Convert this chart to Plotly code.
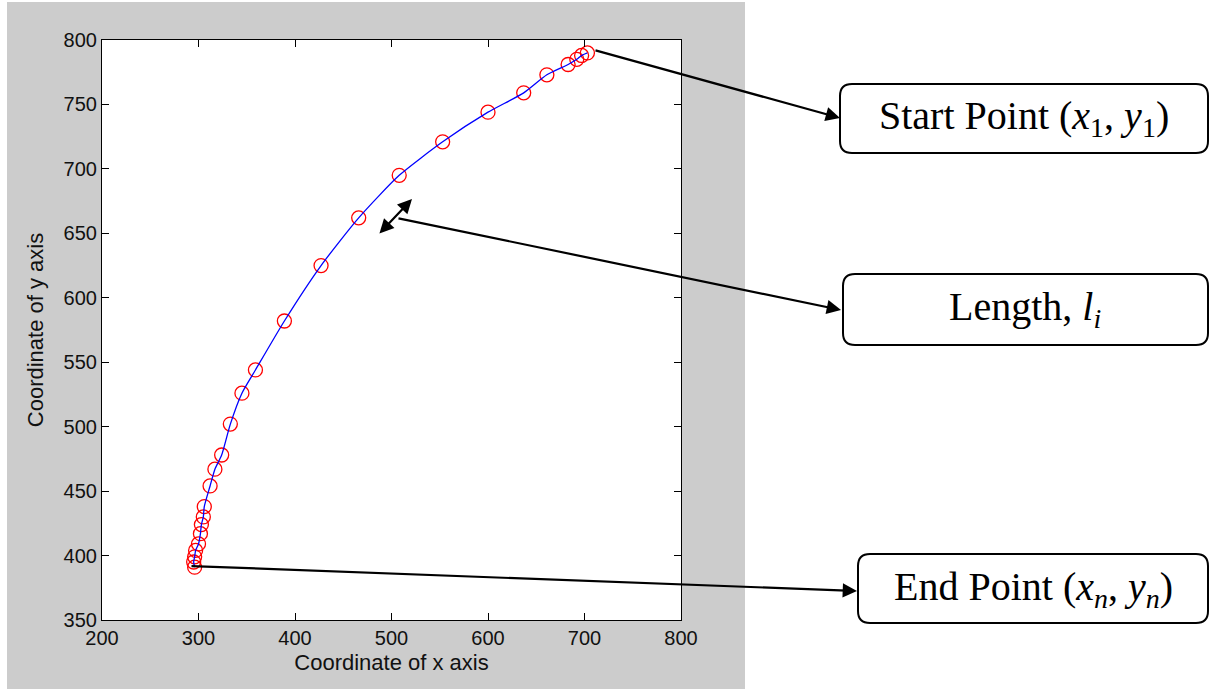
import plotly.graph_objects as go

# ---- data ----
x_coord = [703, 697, 692, 683, 661, 637, 600, 553, 508, 466, 427, 389, 359, 345,
           333, 324, 317, 312, 306, 305, 303, 302, 300, 297, 296, 295, 296]
y_coord = [790, 788, 785, 781, 773, 759, 744, 721, 695, 662, 625, 582, 544, 526,
           502, 478, 467, 454, 438, 430, 424, 417, 409, 404, 399, 395, 391]
x_ticks = [200, 300, 400, 500, 600, 700, 800]
y_ticks = [350, 400, 450, 500, 550, 600, 650, 700, 750, 800]

W, H = 1209, 690
ML, MR, MT, MB = 102, 528, 40, 70
PW, PH = W - ML - MR, H - MT - MB


def px(xp):
    return (xp - ML) / PW


def py(yp):
    return (H - MB - yp) / PH


def rounded_rect(x0, y0, x1, y1, r):
    rx, ry = r / PW, r / PH
    X0, X1 = px(x0), px(x1)
    Y0, Y1 = py(y1), py(y0)  # Y0 bottom, Y1 top
    return (f"M {X0+rx},{Y1} L {X1-rx},{Y1} Q {X1},{Y1} {X1},{Y1-ry} "
            f"L {X1},{Y0+ry} Q {X1},{Y0} {X1-rx},{Y0} "
            f"L {X0+rx},{Y0} Q {X0},{Y0} {X0},{Y0+ry} "
            f"L {X0},{Y1-ry} Q {X0},{Y1} {X0+rx},{Y1} Z")


fig = go.Figure()
fig.add_trace(go.Scatter(x=x_coord, y=y_coord, mode="markers",
                         marker=dict(symbol="circle-open", size=14,
                                     color="#ff0000", line=dict(width=1.3)),
                         showlegend=False, hoverinfo="skip"))
fig.add_trace(go.Scatter(x=x_coord, y=y_coord, mode="lines",
                         line=dict(color="#0000ff", width=1.3, shape="spline", smoothing=0.6),
                         showlegend=False, hoverinfo="skip"))

shapes = [
    # gray figure background
    dict(type="rect", xref="paper", yref="paper", x0=px(7), x1=px(745),
         y0=py(689), y1=py(2), fillcolor="#cccccc", line=dict(width=0), layer="below"),
    # white axes area
    dict(type="rect", xref="paper", yref="paper", x0=0, x1=1, y0=0, y1=1,
         fillcolor="white", line=dict(width=0), layer="below"),
]
boxes = [(840, 84, 1208, 153), (843, 274, 1208, 345), (858, 554, 1208, 623)]
for b in boxes:
    shapes.append(dict(type="path", xref="paper", yref="paper",
                       path=rounded_rect(*b, 12), fillcolor="white",
                       line=dict(color="black", width=2)))

serif = "Liberation Serif, Times New Roman, serif"
labels = [
    ("Start Point (<i>x</i><sub>1</sub>, <i>y</i><sub>1</sub>)", 1024, 118),
    ("Length, <i>l<sub>i</sub></i>", 1025, 309),
    ("End Point (<i>x<sub>n</sub></i>, <i>y<sub>n</sub></i>)", 1033, 589),
]
annotations = []
for t, cx, cy in labels:
    annotations.append(dict(text=t, xref="paper", yref="paper", x=px(cx), y=py(cy),
                            showarrow=False, xanchor="center", yanchor="middle",
                            font=dict(family=serif, size=40, color="black")))

# arrows: (tail px, head px, sides)
arrows = [
    ((594, 50), (840, 118), "end"),
    ((397, 218), (841, 310), "end"),
    ((190, 566), (857, 591), "end"),
    ((378, 235), (412, 199), "end+start"),
]
for (tx, ty), (hx, hy), side in arrows:
    annotations.append(dict(text="", xref="paper", yref="paper", x=px(hx), y=py(hy),
                            axref="pixel", ayref="pixel", ax=tx - hx, ay=ty - hy,
                            showarrow=True, arrowhead=2, arrowsize=1.3, arrowwidth=2.2,
                            arrowcolor="black", arrowside=side, standoff=0, startstandoff=0))

axis_common = dict(showline=True, linecolor="black", linewidth=1.2, mirror="ticks",
                   ticks="inside", ticklen=7, tickwidth=1.2, tickcolor="black",
                   showgrid=False, zeroline=False,
                   tickfont=dict(family="Liberation Sans, Arial, sans-serif", size=20, color="#111"))

fig.update_layout(
    width=W, height=H,
    margin=dict(l=ML, r=MR, t=MT, b=MB, autoexpand=False),
    paper_bgcolor="white", plot_bgcolor="white",
    xaxis=dict(range=[200, 800], tickvals=x_ticks, ticktext=[str(v) for v in x_ticks],
               title=dict(text="Coordinate of x axis", standoff=6,
                          font=dict(family="Liberation Sans, Arial, sans-serif", size=22, color="#111")),
               automargin=False, **axis_common),
    yaxis=dict(range=[350, 800], tickvals=y_ticks, ticktext=[str(v) for v in y_ticks],
               title=dict(text="Coordinate of y axis", standoff=13,
                          font=dict(family="Liberation Sans, Arial, sans-serif", size=22, color="#111")),
               automargin=False, **axis_common),
    shapes=shapes,
    annotations=annotations,
)

fig.write_html("out.html")
